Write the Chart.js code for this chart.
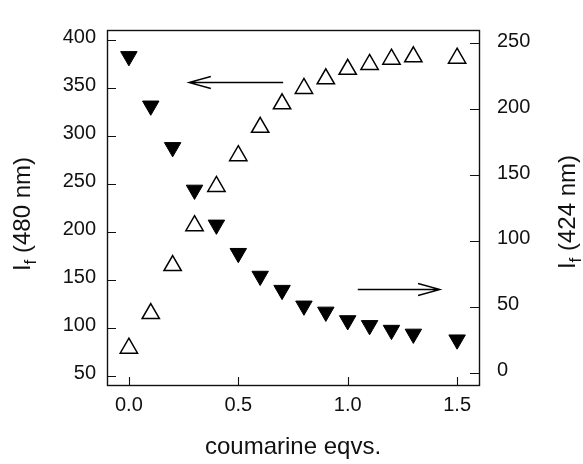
<!DOCTYPE html>
<html>
<head>
<meta charset="utf-8">
<script src="https://cdn.jsdelivr.net/npm/chart.js@4/dist/chart.umd.min.js"></script>
<style>
  body { margin: 0; background: #fff; }
  #zone { width: 583px; height: 464px; }
</style>
</head>
<body>
<div id="zone"><canvas id="graphique"></canvas></div>
<script>
// Equivalents de coumarine (axe x)
const equivalents = [0, 0.1, 0.2, 0.3, 0.4, 0.5, 0.6, 0.7, 0.8, 0.9, 1.0, 1.1, 1.2, 1.3, 1.5];
// Intensite a 480 nm (triangles vides, axe de gauche)
const intensite480 = [79, 115, 165, 206.5, 247.5, 279.5, 309, 333.5, 349.5, 359.5, 369.5, 374.5, 380, 382.5, 381];
// Intensite a 424 nm (triangles pleins, axe de droite)
const intensite424 = [240, 202.5, 171, 138.7, 112.2, 90.7, 73.4, 62.7, 50.8, 46.2, 39.7, 36, 32.4, 29.5, 25.1];

// Graduations des axes
const ticksX = [0, 0.5, 1.0, 1.5];
const ticksGauche = [50, 100, 150, 200, 250, 300, 350, 400];
const ticksDroite = [0, 50, 100, 150, 200, 250];

// Fleches (en unites des axes) : depart x, arrivee x, hauteur y
const flecheGauche = [0.705, 0.274, 356.7];
const flecheDroite = [1.046, 1.422, 63.6];

const police = "'Liberation Sans', Arial, sans-serif";

// Remplacer les graduations calculees par les notres
function fixerTicks(valeurs) {
  return function (scale) {
    scale.ticks = valeurs.map(v => ({ value: v }));
  };
}

// Dessine une fleche avec une pointe ouverte
function dessinerFleche(ctx, x1, x2, y) {
  const sens = x2 > x1 ? 1 : -1;
  ctx.beginPath();
  ctx.moveTo(x1, y);
  ctx.lineTo(x2, y);
  ctx.moveTo(x2 - sens * 22, y - 6);
  ctx.lineTo(x2, y);
  ctx.lineTo(x2 - sens * 22, y + 6);
  ctx.stroke();
}

// Titre vertical avec indice "f"
function titreVertical(ctx, texte, x, y) {
  ctx.save();
  ctx.translate(x, y);
  ctx.rotate(-Math.PI / 2);
  ctx.textBaseline = "alphabetic";
  ctx.textAlign = "left";
  ctx.font = "24px " + police;
  const largeurI = ctx.measureText("I").width;
  const largeurReste = ctx.measureText(texte).width;
  ctx.font = "17px " + police;
  const largeurF = ctx.measureText("f").width;
  const total = largeurI + largeurF + largeurReste;
  let pos = -total / 2;
  ctx.font = "24px " + police;
  ctx.fillText("I", pos, 0);
  pos += largeurI;
  ctx.font = "17px " + police;
  ctx.fillText("f", pos, 6);
  pos += largeurF;
  ctx.font = "24px " + police;
  ctx.fillText(texte, pos, 0);
  ctx.restore();
}

// Cadre, petits traits vers l'interieur
const cadre = {
  id: "cadre",
  beforeDatasetsDraw(chart) {
    const ctx = chart.ctx;
    const a = chart.chartArea;
    ctx.save();
    ctx.strokeStyle = "#111";
    ctx.lineWidth = 1.4;
    ctx.strokeRect(a.left + 0.5, a.top + 0.5, a.right - a.left, a.bottom - a.top);
    ctx.lineWidth = 1.1;
    ctx.beginPath();
    const sx = chart.scales.x;
    for (const t of sx.ticks) {
      const px = Math.round(sx.getPixelForValue(t.value)) + 0.5;
      ctx.moveTo(px, a.bottom);
      ctx.lineTo(px, a.bottom - 8);
    }
    const sg = chart.scales.yGauche;
    for (const t of sg.ticks) {
      const py = Math.round(sg.getPixelForValue(t.value)) + 0.5;
      ctx.moveTo(a.left, py);
      ctx.lineTo(a.left + 9, py);
    }
    const sd = chart.scales.yDroite;
    for (const t of sd.ticks) {
      const py = Math.round(sd.getPixelForValue(t.value)) + 0.5;
      ctx.moveTo(a.right, py);
      ctx.lineTo(a.right - 9, py);
    }
    ctx.stroke();
    ctx.restore();
  },
  afterDraw(chart) {
    const ctx = chart.ctx;
    const sx = chart.scales.x;
    const sg = chart.scales.yGauche;
    const sd = chart.scales.yDroite;
    ctx.save();
    ctx.strokeStyle = "#000";
    ctx.lineWidth = 1.3;
    dessinerFleche(ctx, sx.getPixelForValue(flecheGauche[0]), sx.getPixelForValue(flecheGauche[1]), Math.round(sg.getPixelForValue(flecheGauche[2])) + 0.5);
    dessinerFleche(ctx, sx.getPixelForValue(flecheDroite[0]), sx.getPixelForValue(flecheDroite[1]), Math.round(sd.getPixelForValue(flecheDroite[2])) + 0.5);

    // Titres des axes
    ctx.fillStyle = "#111";
    ctx.font = "24px " + police;
    ctx.textAlign = "center";
    ctx.textBaseline = "alphabetic";
    const a = chart.chartArea;
    ctx.fillText("coumarine eqvs.", (a.left + a.right) / 2, 454);
    titreVertical(ctx, " (480 nm)", 30, 214);
    titreVertical(ctx, " (424 nm)", 575, 212);
    ctx.restore();
  }
};

const points480 = equivalents.map((x, i) => ({ x: x, y: intensite480[i] }));
const points424 = equivalents.map((x, i) => ({ x: x, y: intensite424[i] }));

const config = {
  type: "scatter",
  data: {
    datasets: [
      {
        label: "If (480 nm)",
        data: points480,
        yAxisID: "yGauche",
        pointStyle: "triangle",
        pointRadius: 10,
        backgroundColor: "#fff",
        borderColor: "#000",
        borderWidth: 1.5,
      },
      {
        label: "If (424 nm)",
        data: points424,
        yAxisID: "yDroite",
        pointStyle: "triangle",
        rotation: 180,
        pointRadius: 9.5,
        backgroundColor: "#000",
        borderColor: "#000",
        borderWidth: 1,
      },
    ],
  },
  options: {
    responsive: true,
    maintainAspectRatio: false,
    animation: false,
    layout: { padding: { top: 15, left: 0, right: 0, bottom: 0 } },
    plugins: { legend: { display: false }, tooltip: { enabled: false } },
    scales: {
      x: {
        type: "linear",
        min: -0.1,
        max: 1.6,
        grid: { display: false, drawTicks: false },
        border: { display: false },
        afterBuildTicks: fixerTicks(ticksX),
        afterFit(scale) { scale.height = 79; },
        ticks: {
          autoSkip: false,
          maxRotation: 0,
          padding: 8,
          color: "#111",
          font: { family: police, size: 20 },
          callback: v => v.toFixed(1),
        },
      },
      yGauche: {
        type: "linear",
        position: "left",
        min: 40.6,
        max: 410.4,
        grid: { display: false, drawTicks: false },
        border: { display: false },
        afterBuildTicks: fixerTicks(ticksGauche),
        afterFit(scale) { scale.width = 107; },
        ticks: {
          autoSkip: false,
          padding: 11,
          labelOffset: -2.5,
          color: "#111",
          font: { family: police, size: 20 },
        },
      },
      yDroite: {
        type: "linear",
        position: "right",
        min: -9.25,
        max: 260,
        grid: { display: false, drawTicks: false },
        border: { display: false },
        afterBuildTicks: fixerTicks(ticksDroite),
        afterFit(scale) { scale.width = 104; },
        ticks: {
          autoSkip: false,
          padding: 18,
          labelOffset: -2,
          color: "#111",
          font: { family: police, size: 20 },
        },
      },
    },
  },
  plugins: [cadre],
};

new Chart(document.querySelector("#graphique"), config);
</script>
</body>
</html>
